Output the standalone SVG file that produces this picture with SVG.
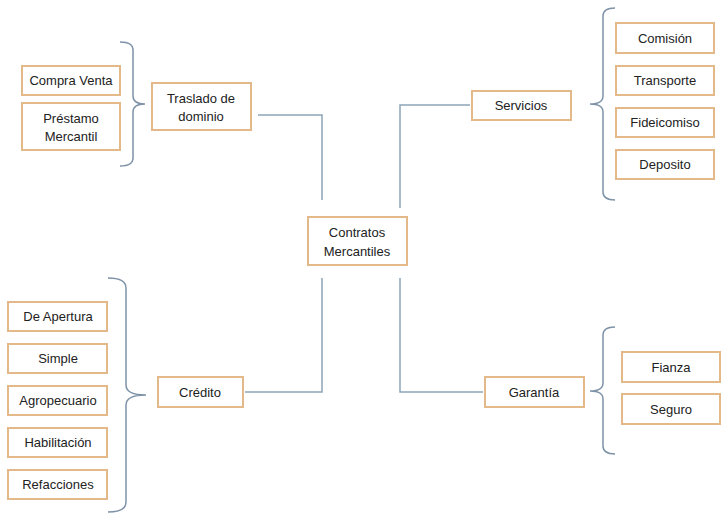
<svg xmlns="http://www.w3.org/2000/svg" width="728" height="523" viewBox="0 0 728 523">
<style>
.b{fill:#fff;stroke:#e3b98a;stroke-width:2}
.t{font-family:"Liberation Sans",Arial,sans-serif;font-size:13px;fill:#222;text-anchor:middle}
.c{fill:none;stroke:#8da4b8;stroke-width:1.5}
.k{fill:none;stroke:#7f93a8;stroke-width:1.5}
</style>
<rect width="728" height="523" fill="#fff"/>
<g id="connectors">
<path class="c" d="M258 115H322V200"/>
<path class="c" d="M470 105H400V208"/>
<path class="c" d="M245 392H322V278"/>
<path class="c" d="M483 392H400V278"/>
<path class="k" d="M120 42Q133 42 133 50V96Q133 104 145 104Q133 104 133 112V158Q133 166 120 166"/>
<path class="k" d="M108 278Q126 278 126 288V385Q126 395 146 395Q126 395 126 405V502Q126 512 108 512"/>
<path class="k" d="M615 8Q603 8 603 16V96Q603 104 590 104Q603 104 603 112V192Q603 200 615 200"/>
<path class="k" d="M615 327Q603 327 603 335V383Q603 391 590 391Q603 391 603 399V446Q603 454 615 454"/>
</g>
<g id="contratos"><rect class="b" x="308" y="217" width="99" height="48"/><text class="t" x="357" y="237">Contratos</text><text class="t" x="357" y="256">Mercantiles</text></g>
<g id="traslado"><rect class="b" x="152" y="83" width="99" height="47"/><text class="t" x="201" y="103">Traslado de</text><text class="t" x="201" y="121">dominio</text></g>
<g id="compraventa"><rect class="b" x="22" y="66" width="98" height="29"/><text class="t" x="71" y="85">Compra Venta</text></g>
<g id="prestamo"><rect class="b" x="22" y="103" width="98" height="47"/><text class="t" x="71" y="123">Préstamo</text><text class="t" x="71" y="141">Mercantil</text></g>
<g id="servicios"><rect class="b" x="472" y="91" width="99" height="29"/><text class="t" x="521" y="110">Servicios</text></g>
<g id="comision"><rect class="b" x="616" y="23" width="98" height="30"/><text class="t" x="665" y="43">Comisión</text></g>
<g id="transporte"><rect class="b" x="616" y="66" width="98" height="29"/><text class="t" x="665" y="85">Transporte</text></g>
<g id="fideicomiso"><rect class="b" x="616" y="108" width="98" height="29"/><text class="t" x="665" y="127">Fideicomiso</text></g>
<g id="deposito"><rect class="b" x="616" y="150" width="98" height="29"/><text class="t" x="665" y="169">Deposito</text></g>
<g id="credito"><rect class="b" x="158" y="377" width="85" height="30"/><text class="t" x="200" y="397">Crédito</text></g>
<g id="apertura"><rect class="b" x="8" y="302" width="99" height="29"/><text class="t" x="58" y="321">De Apertura</text></g>
<g id="simple"><rect class="b" x="8" y="344" width="99" height="29"/><text class="t" x="58" y="363">Simple</text></g>
<g id="agropecuario"><rect class="b" x="8" y="386" width="99" height="29"/><text class="t" x="58" y="405">Agropecuario</text></g>
<g id="habilitacion"><rect class="b" x="8" y="428" width="99" height="29"/><text class="t" x="58" y="447">Habilitación</text></g>
<g id="refacciones"><rect class="b" x="8" y="470" width="99" height="29"/><text class="t" x="58" y="489">Refacciones</text></g>
<g id="garantia"><rect class="b" x="485" y="377" width="99" height="30"/><text class="t" x="534" y="397">Garantía</text></g>
<g id="fianza"><rect class="b" x="622" y="352" width="98" height="30"/><text class="t" x="671" y="372">Fianza</text></g>
<g id="seguro"><rect class="b" x="622" y="394" width="98" height="30"/><text class="t" x="671" y="414">Seguro</text></g>
</svg>
